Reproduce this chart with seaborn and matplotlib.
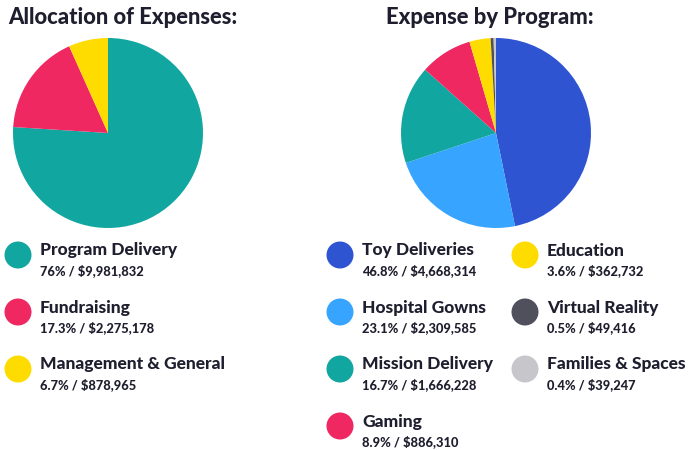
import matplotlib
matplotlib.use("Agg")
import matplotlib.pyplot as plt
from matplotlib.patches import Circle
import seaborn as sns

# ---- data ----
alloc_labels = ["Program Delivery", "Fundraising", "Management & General"]
alloc_pct = [76.0, 17.3, 6.7]
alloc_amt = ["$9,981,832", "$2,275,178", "$878,965"]
alloc_pct_txt = ["76%", "17.3%", "6.7%"]

prog_labels = ["Toy Deliveries", "Hospital Gowns", "Mission Delivery", "Gaming",
               "Education", "Virtual Reality", "Families & Spaces"]
prog_pct = [46.8, 23.1, 16.7, 8.9, 3.6, 0.5, 0.4]
prog_pct_txt = ["46.8%", "23.1%", "16.7%", "8.9%", "3.6%", "0.5%", "0.4%"]
prog_amt = ["$4,668,314", "$2,309,585", "$1,666,228", "$886,310",
            "$362,732", "$49,416", "$39,247"]

alloc_colors = ["#12a6a1", "#ef2862", "#ffdc00"]
prog_colors = ["#2f54d2", "#37a5ff", "#12a6a1", "#ef2862", "#ffdc00", "#4f505c", "#c7c6cb"]

sns.set_theme(style="white")
plt.rcParams["font.family"] = ["Lato", "DejaVu Sans"]
TXT = "#1e1e2e"

W, H = 690, 450
fig = plt.figure(figsize=(W / 100, H / 100), dpi=100)
fig.patch.set_facecolor("white")


def px_axes(cx, cy, r):
    return fig.add_axes([(cx - r) / W, (H - cy - r) / H, 2 * r / W, 2 * r / H])


def draw_pie(cx, cy, r, vals, cols):
    ax = px_axes(cx, cy, r)
    ax.pie(vals, colors=cols, startangle=90, counterclock=False, radius=1,
           wedgeprops=dict(linewidth=0))
    ax.set_xlim(-1, 1)
    ax.set_ylim(-1, 1)
    ax.set_aspect("equal")
    ax.axis("off")


draw_pie(108, 133, 95, alloc_pct, alloc_colors)
draw_pie(496, 133, 95, prog_pct, prog_colors)

fig.text(8 / W, 1 - 18 / H, "Allocation of Expenses:", fontsize=15.8, fontweight="black",
         color=TXT, va="center", ha="left")
fig.text(386 / W, 1 - 18 / H, "Expense by Program:", fontsize=15.8, fontweight="black",
         color=TXT, va="center", ha="left")

# overlay axes in pixel coordinates for legend
lax = fig.add_axes([0, 0, 1, 1])
lax.set_xlim(0, W)
lax.set_ylim(H, 0)
lax.axis("off")


def legend_item(x, y, color, name, pct, amt):
    lax.add_patch(Circle((x, y + 6), 13.5, color=color, lw=0))
    lax.text(x + 22, y + 1.5, name, fontsize=12.5, fontweight="black", color=TXT,
             va="center", ha="left")
    lax.text(x + 22, y + 22, f"{pct} / {amt}", fontsize=9.3, fontweight="black",
             color=TXT, va="center", ha="left")


STEP = 57
for i in range(3):
    legend_item(18, 249 + STEP * i, alloc_colors[i], alloc_labels[i], alloc_pct_txt[i], alloc_amt[i])

for i in range(7):
    if i < 4:
        x, y = 340, 249 + STEP * i
    else:
        x, y = 525, 249 + STEP * (i - 4)
    legend_item(x, y, prog_colors[i], prog_labels[i], prog_pct_txt[i], prog_amt[i])

fig.savefig("out.png", dpi=100, facecolor="white")
